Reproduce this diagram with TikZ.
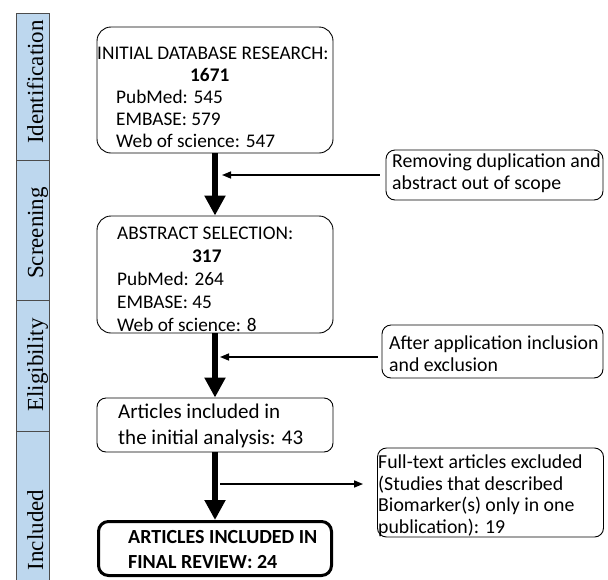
\documentclass[tikz,border=0pt]{standalone}
\usepackage{fontspec}
\setmainfont{Carlito}
\newfontfamily\stagefont{Liberation Serif}
\usepackage{tikz}
\usetikzlibrary{arrows.meta,positioning}
\definecolor{stageblue}{RGB}{189,215,238}

\begin{document}
\begin{tikzpicture}[x=1pt, y=-1pt,
  stage/.style={draw=black!70, fill=stageblue, minimum width=33pt, inner sep=0pt},
  stagetxt/.style={rotate=90, anchor=base, inner sep=0pt,
                   font=\stagefont\fontsize{23}{26}\selectfont},
  box/.style={draw, line width=0.9pt, rounded corners=14pt, minimum width=236pt},
  side/.style={draw, line width=0.9pt, rounded corners=9pt},
  txt/.style={anchor=north west, align=left, inner sep=0pt,
              font=\fontsize{19.3}{22}\selectfont},
  sidetxt/.style={txt, font=\fontsize{19.8}{22}\selectfont},
  bigarr/.style={line width=6pt, -{Triangle[width=20pt,length=20pt]}},
  thinarr/.style={line width=1.5pt, -{Triangle[width=7pt,length=9pt]}}
]
\useasboundingbox (0,0) rectangle (608,579);

% ===== stages =====
\node[stage, minimum height=147pt] (ident) at (32.5,86.5) {};
\node[stage, minimum height=140pt] (screen) at (32.5,230) {};
\node[stage, minimum height=131pt] (elig) at (32.5,365.5) {};
\node[stage, minimum height=150pt] (incl) at (32.5,506) {};
\node[stagetxt] (identtxt) at (43,82) {Identification};
\node[stagetxt] (screentxt) at (43,233) {Screening};
\node[stagetxt] (eligtxt) at (43,365) {Eligibility};
\node[stagetxt] (incltxt) at (43,530) {Included};

% ===== main boxes =====
\node[box, minimum height=126pt] (db) at (215,90) {};
\node[txt] (dbtxt) at (97,47) {INITIAL DATABASE RESEARCH:\\
  \hspace*{93pt}\textbf{1671}\\
  \hspace*{19pt}PubMed: 545\\
  \hspace*{19pt}EMBASE: 579\\
  \hspace*{19pt}Web of science: 547};

\node[box, minimum height=117pt] (abs) at (215,274.5) {};
\node[txt, font=\fontsize{19.3}{23}\selectfont] (abstxt) at (117,227) {ABSTRACT SELECTION:\\
  \hspace*{75pt}\textbf{317}\\
  PubMed: 264\\
  EMBASE: 45\\
  Web of science: 8};

\node[box, rounded corners=9pt, minimum height=54pt] (init) at (215,425) {};
\node[txt, font=\fontsize{21}{26}\selectfont] (inittxt) at (118,404) {Articles included in\\
  the initial analysis: 43};

\node[box, line width=3pt, rounded corners=10pt, minimum width=233pt,
      minimum height=54pt] (final) at (215,548.5) {};
\node[txt, font=\fontsize{20}{25}\bfseries\selectfont] (finaltxt) at (128,530) {ARTICLES INCLUDED IN\\
  FINAL REVIEW: 24};

% ===== side boxes =====
\node[side, minimum width=217pt, minimum height=50pt] (dup) at (494.5,175) {};
\node[sidetxt] (duptxt) at (392,154) {Removing duplication and\\
  abstract out of scope};

\node[side, minimum width=221pt, minimum height=53pt] (crit) at (492.5,351.5) {};
\node[sidetxt] (crittxt) at (389,336) {After application inclusion\\
  and exclusion};

\node[side, minimum width=226pt, minimum height=89pt] (excl) at (490.5,492.5) {};
\node[sidetxt, font=\fontsize{19.8}{21.5}\selectfont] (excltxt) at (378,455) {Full-text articles excluded\\
  (Studies that described\\
  Biomarker(s) only in one\\
  publication): 19};

% ===== arrows =====
\coordinate (t1) at (222,175);
\coordinate (t2) at (220,357);
\coordinate (t3) at (220,484);
\draw[bigarr] (db.south) -- (abs.north);
\draw[bigarr] (abs.south) -- (init.north);
\draw[bigarr] (init.south) -- (final.north);
\draw[thinarr, shorten <=6pt] (dup.west) -- (t1);
\draw[thinarr, shorten <=4pt] (crit.west |- t2) -- (t2);
\draw[thinarr, shorten >=14pt] (t3) -- (excl.west |- t3);

\end{tikzpicture}
\end{document}
